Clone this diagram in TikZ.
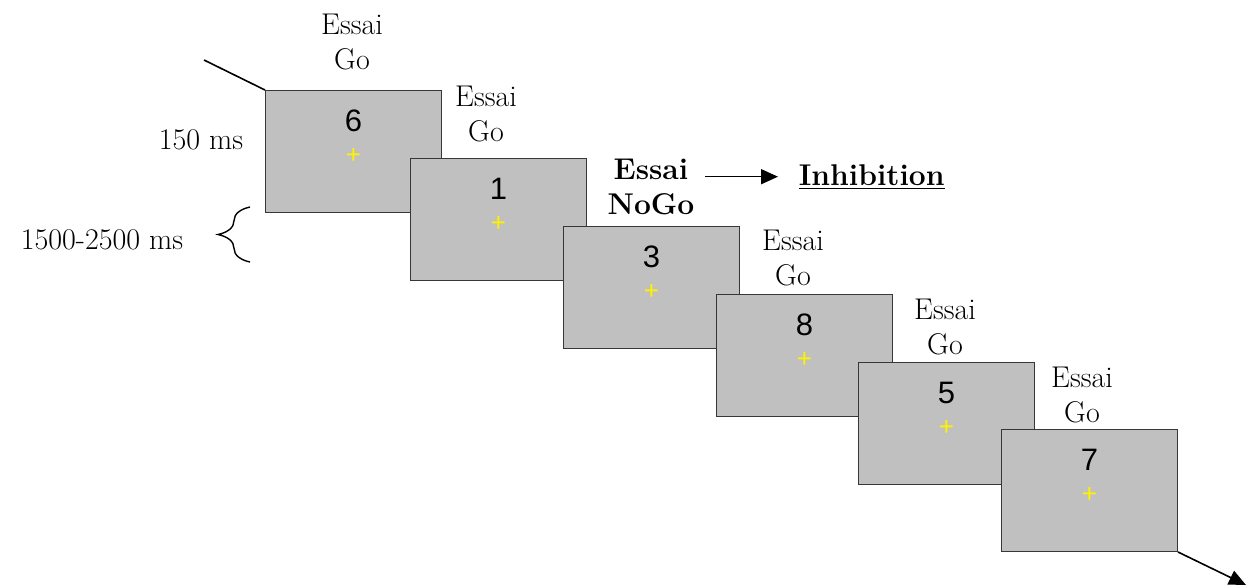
\documentclass[tikz,border=0pt]{standalone}
\usepackage{fontspec}
\usepackage{xcolor}
\usetikzlibrary{arrows.meta, decorations.pathreplacing}
\newfontfamily\digitfont{Liberation Sans}
\definecolor{stimgray}{RGB}{192,192,192}
\definecolor{framegray}{RGB}{55,55,55}

\begin{document}
\begin{tikzpicture}[x=0.5pt, y=-0.5pt, >={Triangle[length=8.5pt, width=7.5pt]},
stim/.style={rectangle, draw=framegray, fill=stimgray, line width=.5pt,
anchor=north west, minimum width=88pt, minimum height=61pt, inner sep=0pt},
%
digit/.style={font=\digitfont\fontsize{15.5}{18}\selectfont, inner sep=0pt},
%
fixation/.style={font=\digitfont\fontsize{13}{15}\selectfont, text=yellow,
inner sep=0pt},
%
trial/.style={align=center, font=\fontsize{15}{17.5}\selectfont, inner sep=1pt},
%
nogo/.style={align=center, font=\fontsize{15}{17.5}\selectfont\bfseries,
inner sep=1pt},
%
timing/.style={font=\fontsize{15}{17.5}\selectfont, inner sep=1pt}]

\tikzset{every path/.style={line width=.8pt}}

\useasboundingbox (0,0) rectangle (1247,586);

\coordinate (entry) at (204,60);
\coordinate (exit) at (1246,585);
\coordinate (braceTop) at (250,207);
\coordinate (braceBot) at (250,262);

%%%%%%%%%%%%%%%%%%%%%%%%%%%%%%
\node [stim] (scr1) at (265,90) {};
\node [digit] (num1) at ([yshift=-15.5pt]scr1.north) {6};
\node [fixation] (fix1) at ([yshift=-33pt]scr1.north) {+};
\node [trial] (trial1) at (352,42) {Essai\\Go};
%%%%%%%%%%%%%%%%%%%%%%%%%%%%%%
\node [stim] (scr2) at (410,158) {};
\node [digit] (num2) at ([yshift=-15.5pt]scr2.north) {1};
\node [fixation] (fix2) at ([yshift=-33pt]scr2.north) {+};
\node [trial] (trial2) at (486,114) {Essai\\Go};
%%%%%%%%%%%%%%%%%%%%%%%%%%%%%%
\node [stim] (scr3) at (563,226) {};
\node [digit] (num3) at ([yshift=-15.5pt]scr3.north) {3};
\node [fixation] (fix3) at ([yshift=-33pt]scr3.north) {+};
\node [nogo] (trial3) at (651,187) {Essai\\NoGo};
%%%%%%%%%%%%%%%%%%%%%%%%%%%%%%
\node [stim] (scr4) at (716,294) {};
\node [digit] (num4) at ([yshift=-15.5pt]scr4.north) {8};
\node [fixation] (fix4) at ([yshift=-33pt]scr4.north) {+};
\node [trial] (trial4) at (793,258) {Essai\\Go};
%%%%%%%%%%%%%%%%%%%%%%%%%%%%%%
\node [stim] (scr5) at (858,362) {};
\node [digit] (num5) at ([yshift=-15.5pt]scr5.north) {5};
\node [fixation] (fix5) at ([yshift=-33pt]scr5.north) {+};
\node [trial] (trial5) at (945,327) {Essai\\Go};
%%%%%%%%%%%%%%%%%%%%%%%%%%%%%%
\node [stim] (scr6) at (1001,429) {};
\node [digit] (num6) at ([yshift=-15.5pt]scr6.north) {7};
\node [fixation] (fix6) at ([yshift=-33pt]scr6.north) {+};
\node [trial] (trial6) at (1082,395) {Essai\\Go};
%%%%%%%%%%%%%%%%%%%%%%%%%%%%%%
\node [timing, font=\fontsize{15}{17.5}\selectfont\bfseries, anchor=base west]
  (inhib) at (796,185) {\underline{Inhibition}};
\node [timing] (dur) at (201,140) {150 ms};
\node [timing] (isi) at (102,240) {1500-2500 ms};

%%%%%%%%%%%%%%%%%%%%%%%%%%%%%%
\draw (entry) -- (scr1.north west);
\draw [->] (scr6.south east) -- (exit);
\draw [->, shorten <=4pt, shorten >=9pt] (trial3.east |- inhib.west) -- (inhib.west);
\draw [decorate, decoration={brace, amplitude=16pt}, line width=.7pt]
  (braceBot) -- (braceTop);

\end{tikzpicture}
\end{document}
